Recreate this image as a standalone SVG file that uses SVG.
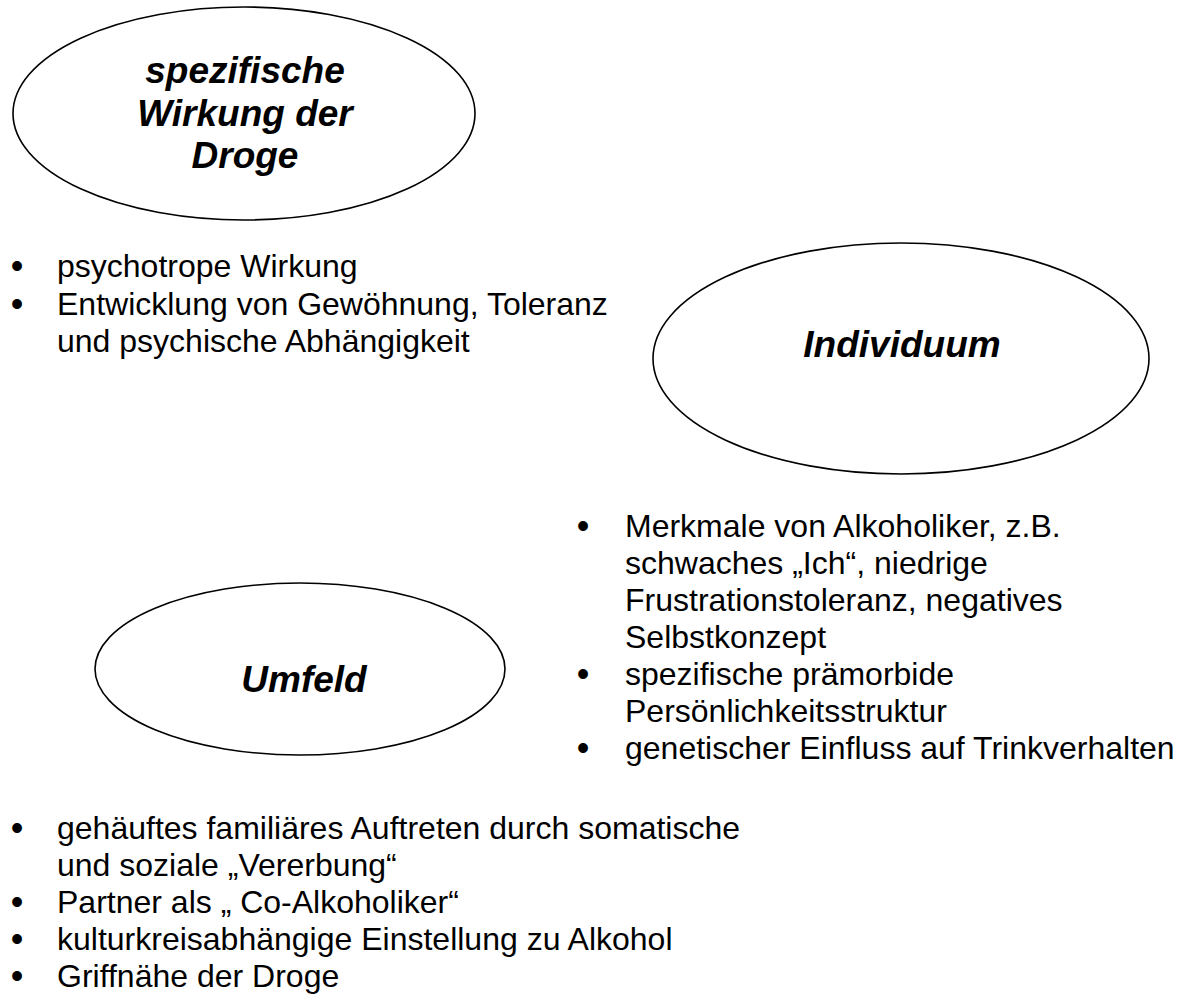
<svg xmlns="http://www.w3.org/2000/svg" width="1183" height="996" viewBox="0 0 1183 996">
<style>
.bg{fill:#fff}
.node ellipse{fill:#fff;stroke:#000;stroke-width:1.6}
.title{font-family:"Liberation Sans",Arial,sans-serif;font-weight:bold;font-style:italic;font-size:37px;fill:#000;text-anchor:middle}
.body{font-family:"Liberation Sans",Arial,sans-serif;font-size:32px;fill:#000}
.bullet{font-family:"Liberation Sans",Arial,sans-serif;font-size:36px;fill:#000;text-anchor:middle}
</style>
<rect class="bg" x="0" y="0" width="1183" height="996"/>
<g id="node-droge" class="node">
<ellipse cx="244" cy="113.5" rx="231" ry="106.5"/>
<text class="title"><tspan x="245" y="83">spezifische</tspan><tspan x="245" y="125.5">Wirkung der</tspan><tspan x="245" y="168">Droge</tspan></text>
</g>
<g id="node-individuum" class="node">
<ellipse cx="901" cy="358.5" rx="248" ry="115.5"/>
<text class="title" x="902" y="357">Individuum</text>
</g>
<g id="node-umfeld" class="node">
<ellipse cx="300" cy="669" rx="205" ry="86"/>
<text class="title" x="304" y="692">Umfeld</text>
</g>
<g id="connectors"></g>
<g id="list-droge" class="body">
<text class="bullet" x="17" y="278">•</text><text x="57" y="277">psychotrope Wirkung</text>
<text class="bullet" x="17" y="315.5">•</text><text x="57" y="314.5">Entwicklung von Gewöhnung, Toleranz</text>
<text x="57" y="352">und psychische Abhängigkeit</text>
</g>
<g id="list-individuum" class="body">
<text class="bullet" x="583" y="538">•</text><text x="625" y="537">Merkmale von Alkoholiker, z.B.</text>
<text x="625" y="574">schwaches „Ich“, niedrige</text>
<text x="625" y="611">Frustrationstoleranz, negatives</text>
<text x="625" y="648">Selbstkonzept</text>
<text class="bullet" x="583" y="686">•</text><text x="625" y="685">spezifische prämorbide</text>
<text x="625" y="722">Persönlichkeitsstruktur</text>
<text class="bullet" x="583" y="760">•</text><text x="625" y="759">genetischer Einfluss auf Trinkverhalten</text>
</g>
<g id="list-umfeld" class="body">
<text class="bullet" x="17" y="840">•</text><text x="57" y="839">gehäuftes familiäres Auftreten durch somatische</text>
<text x="57" y="876">und soziale „Vererbung“</text>
<text class="bullet" x="17" y="914">•</text><text x="57" y="913">Partner als „ Co-Alkoholiker“</text>
<text class="bullet" x="17" y="951">•</text><text x="57" y="950">kulturkreisabhängige Einstellung zu Alkohol</text>
<text class="bullet" x="17" y="988">•</text><text x="57" y="987">Griffnähe der Droge</text>
</g>
</svg>
